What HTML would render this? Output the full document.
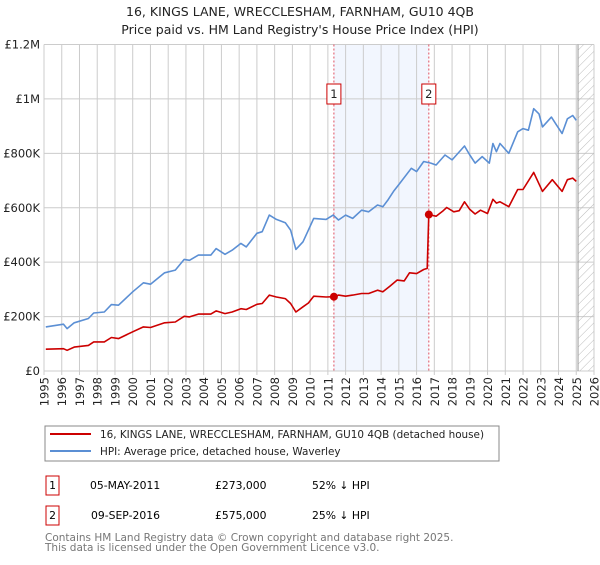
<!DOCTYPE html>
<html><head><meta charset="utf-8"><style>
body{margin:0;background:#fff;font-family:"Liberation Sans","DejaVu Sans",sans-serif}
svg text{font-family:"DejaVu Sans","Liberation Sans",sans-serif}
</style></head><body>
<svg id="c" width="600" height="560" viewBox="0 0 600 560" xmlns="http://www.w3.org/2000/svg">
<defs><pattern id="hatch" width="6" height="6" patternUnits="userSpaceOnUse" patternTransform="rotate(45)"><line x1="0" y1="0" x2="0" y2="6" stroke="#bbb" stroke-width="1"/></pattern></defs>
<text x="300" y="16" text-anchor="middle" font-size="12.5" fill="#222">16, KINGS LANE, WRECCLESHAM, FARNHAM, GU10 4QB</text>
<text x="300" y="34" text-anchor="middle" font-size="12.5" fill="#222">Price paid vs. HM Land Registry's House Price Index (HPI)</text>
<g id="grid"></g><g id="series"></g><g id="axes"></g>
<rect x="45" y="426" width="454" height="35" fill="#fff" stroke="#888"/>
<line x1="50" y1="434" x2="91" y2="434" stroke="#cc0000" stroke-width="2"/>
<text x="100" y="438" font-size="10.4" fill="#222">16, KINGS LANE, WRECCLESHAM, FARNHAM, GU10 4QB (detached house)</text>
<line x1="50" y1="451" x2="91" y2="451" stroke="#5b8fd4" stroke-width="2"/>
<text x="100" y="455" font-size="10.4" fill="#222">HPI: Average price, detached house, Waverley</text>
<g font-size="10.8">
<rect x="46" y="476" width="13" height="19" fill="#fff" stroke="#cc0000"/><text x="52.5" y="489" text-anchor="middle">1</text>
<text x="90" y="489">05-MAY-2011</text><text x="215" y="489">£273,000</text><text x="312" y="489">52% ↓ HPI</text></g>
<g font-size="10.8">
<rect x="46" y="506" width="13" height="19" fill="#fff" stroke="#cc0000"/><text x="52.5" y="519" text-anchor="middle">2</text>
<text x="91" y="519">09-SEP-2016</text><text x="215" y="519">£575,000</text><text x="312" y="519">25% ↓ HPI</text></g>
<text x="45" y="541" font-size="10.5" fill="#777">Contains HM Land Registry data © Crown copyright and database right 2025.</text>
<text x="45" y="551" font-size="10.5" fill="#777">This data is licensed under the Open Government Licence v3.0.</text>
</svg>
<script>
const hpiYears=[1995.1,1996.1,1996.3,1996.7,1997.5,1997.8,1998.4,1998.8,1999.2,2000.0,2000.6,2001.0,2001.8,2002.4,2002.9,2003.2,2003.7,2004.4,2004.7,2005.2,2005.6,2006.1,2006.4,2007.0,2007.3,2007.7,2008.1,2008.6,2008.9,2009.2,2009.6,2009.9,2010.2,2010.9,2011.3,2011.6,2012.0,2012.4,2012.9,2013.3,2013.8,2014.1,2014.4,2014.7,2015.0,2015.7,2016.0,2016.4,2016.8,2017.1,2017.6,2018.0,2018.7,2019.0,2019.3,2019.7,2020.1,2020.3,2020.5,2020.7,2021.2,2021.7,2022.0,2022.3,2022.6,2022.9,2023.1,2023.6,2023.9,2024.2,2024.5,2024.8,2025.0];
const hpiValues=[162000,172000,156000,177000,193000,213000,217000,244000,242000,291000,324000,319000,361000,371000,410000,407000,426000,426000,450000,429000,444000,469000,456000,506000,512000,573000,557000,545000,518000,447000,475000,518000,561000,557000,573000,555000,573000,561000,591000,585000,610000,604000,630000,660000,685000,745000,733000,770000,764000,757000,794000,776000,827000,794000,764000,788000,764000,836000,806000,836000,800000,879000,891000,885000,964000,945000,897000,933000,903000,873000,927000,939000,921000];
const propYears=[1995.1,1996.1,1996.3,1996.7,1997.5,1997.8,1998.4,1998.8,1999.2,2000.0,2000.6,2001.0,2001.8,2002.4,2002.9,2003.2,2003.7,2004.4,2004.7,2005.2,2005.6,2006.1,2006.4,2007.0,2007.3,2007.7,2008.1,2008.6,2008.9,2009.2,2009.6,2009.9,2010.2,2010.9,2011.34,2011.6,2012.0,2012.4,2012.9,2013.3,2013.8,2014.1,2014.5,2014.9,2015.3,2015.6,2016.0,2016.4,2016.6,2016.69,2017.1,2017.5,2017.7,2018.1,2018.4,2018.7,2019.0,2019.3,2019.6,2020.0,2020.3,2020.5,2020.7,2021.2,2021.7,2022.0,2022.6,2023.1,2023.65,2024.2,2024.5,2024.8,2025.0];
const propValues=[80000,82000,76000,88000,94000,107000,107000,123000,119000,144000,162000,160000,177000,180000,201000,199000,209000,209000,221000,211000,217000,229000,226000,245000,248000,279000,272000,266000,248000,217000,236000,250000,275000,272000,273000,279000,275000,279000,285000,285000,297000,291000,312000,334000,331000,361000,358000,373000,377000,575000,569000,589000,601000,585000,589000,622000,594000,577000,591000,579000,631000,617000,622000,604000,667000,667000,730000,660000,703000,660000,703000,709000,697000];
const saleYears=[2011.34,2016.69];
const saleValues=[273000,575000];
const saleLabels=["1","2"];
const yTicks=[0,200000,400000,600000,800000,1000000,1200000];
const yTickLabels=["£0","£200K","£400K","£600K","£800K","£1M","£1.2M"];
const xTicks=[1995,1996,1997,1998,1999,2000,2001,2002,2003,2004,2005,2006,2007,2008,2009,2010,2011,2012,2013,2014,2015,2016,2017,2018,2019,2020,2021,2022,2023,2024,2025,2026];

const NS="http://www.w3.org/2000/svg";
const X0=44,X1=594,Y0=371,Y1=44.5;
const xs=y=>X0+(y-1995)/31*(X1-X0);
const ys=v=>Y0-v/1200000*(Y0-Y1);
function mk(tag,attrs,parent){const e=document.createElementNS(NS,tag);for(const k in attrs)e.setAttribute(k,attrs[k]);parent.appendChild(e);return e;}
const grid=document.getElementById('grid'),ser=document.getElementById('series'),ax=document.getElementById('axes');
let sh=mk('rect',{x:xs(saleYears[0]),y:Y1,width:xs(saleYears[1])-xs(saleYears[0]),height:Y0-Y1,fill:'#f2f6fe'},grid);


xTicks.forEach(t=>{
  const l=mk('line',{x1:xs(t),x2:xs(t),y1:Y1,y2:Y0+4,stroke:'#ccc','stroke-width':1},grid);
  
  
  const x=xs(t);
  const tx=mk('text',{x:0,y:0,'font-size':11.5,fill:'#222','text-anchor':'end',transform:`translate(${x+4.5},${Y0+6}) rotate(-90)`},ax);
  tx.textContent=t;
  
  
});
yTicks.forEach((t,i)=>{
  const l=mk('line',{x1:X0,x2:X1,y1:ys(t),y2:ys(t),stroke:'#ccc','stroke-width':1},grid);
  
  
  const tx=mk('text',{x:X0-4,y:ys(t)+4,'font-size':11.5,fill:'#222','text-anchor':'end'},ax);
  tx.textContent=yTickLabels[i];
  
  
});
const hx=xs(2025.1);
let hr=mk('rect',{x:hx,y:Y1,width:X1-hx,height:Y0-Y1,fill:'url(#hatch)',stroke:'none'},grid);


let hl=mk('line',{x1:hx,x2:hx,y1:Y1,y2:Y0,stroke:'#999','stroke-width':1},grid);


saleYears.forEach((s,i)=>{
  const l=mk('line',{x1:xs(s),x2:xs(s),y1:Y1,y2:Y0,stroke:'#e05060','stroke-width':1,'stroke-dasharray':'2,2'},grid);
  
  
});
function path(xa,va,color,name){
  const d=xa.map((y,i)=>(i?'L':'M')+xs(y).toFixed(1)+','+ys(va[i]).toFixed(1)).join('');
  const p=mk('path',{d:d,fill:'none',stroke:color,'stroke-width':1.6,'stroke-linejoin':'round'},ser);
  
  
}
path(hpiYears,hpiValues,'#5b8fd4','hpi-line');
path(propYears,propValues,'#cc0000','property-price-line');
saleYears.forEach((s,i)=>{
  const c=mk('circle',{cx:xs(s),cy:ys(saleValues[i]),r:4,fill:'#cc0000'},ser);
  
  
  const g=mk('g',{},ser);
  
  
  mk('rect',{x:xs(s)-7,y:84,width:14,height:20,fill:'#fff',stroke:'#cc0000'},g);
  const t=mk('text',{x:xs(s),y:98,'text-anchor':'middle','font-size':11.5,fill:'#222'},g);
  t.textContent=saleLabels[i];
});
</script>
</body></html>
